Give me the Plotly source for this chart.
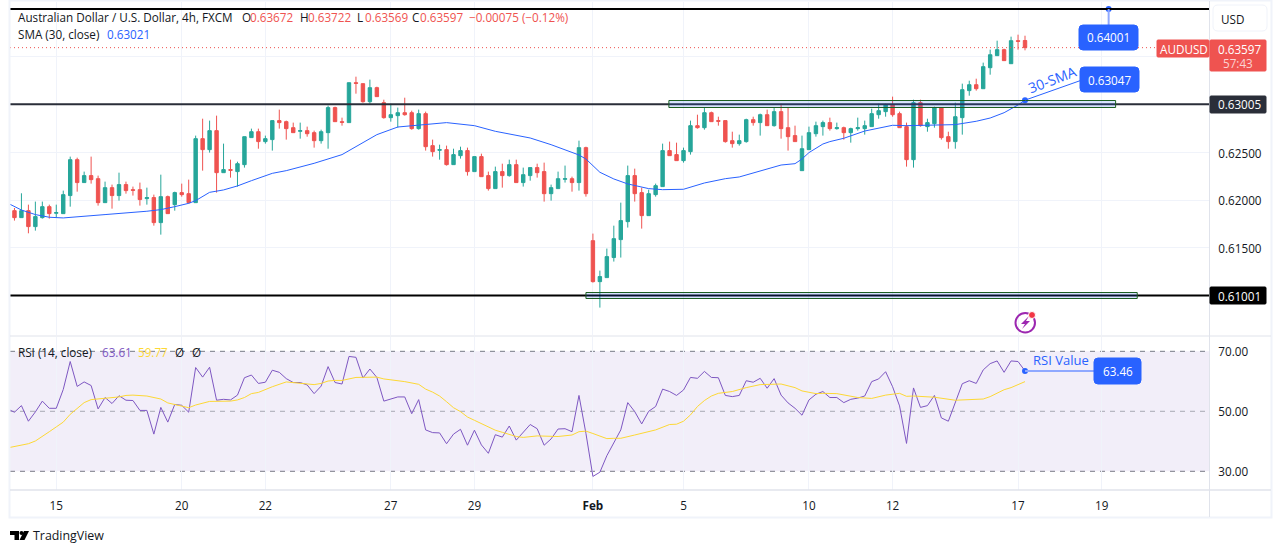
import plotly.graph_objects as go
from plotly.subplots import make_subplots

FONT = "Open Sans"
TEXT_SIZE = 11.7
TEAL = "#26a69a"
RED = "#ef5350"
BLUE = "#2962ff"
INK = "#131722"
FRAME = "#e0e3eb"

# AUD/USD 4h candles, one entry per bar, bar 0 is the first bar of the 15th
opens = [0.61890, 0.61817, 0.61890, 0.61723, 0.61817, 0.61932, 0.61863, 0.61859, 0.62048, 0.62424,
         0.62184, 0.62257, 0.62225, 0.61974, 0.62131, 0.62048, 0.62163, 0.62110, 0.62110, 0.62016,
         0.62027, 0.61765, 0.62037, 0.61953, 0.62079, 0.62068, 0.61974, 0.62644, 0.62529, 0.62728,
         0.62288, 0.62320, 0.62299, 0.62372, 0.62655, 0.62717, 0.62613, 0.62634, 0.62833, 0.62822,
         0.62759, 0.62721, 0.62728, 0.62707, 0.62623, 0.62707, 0.62969, 0.62822, 0.62812, 0.63230,
         0.63220, 0.63031, 0.63178, 0.63021, 0.62864, 0.62885, 0.62916, 0.62916, 0.62749, 0.62906,
         0.62571, 0.62522, 0.62529, 0.62372, 0.62466, 0.62519, 0.62299, 0.62456, 0.62257, 0.62121,
         0.62299, 0.62257, 0.62372, 0.62184, 0.62257, 0.62341, 0.62299, 0.62068, 0.62121, 0.62218,
         0.62225, 0.62184, 0.62550, 0.61576, 0.61147, 0.61189, 0.61399, 0.61587, 0.61775, 0.62257,
         0.62079, 0.61838, 0.62058, 0.62142, 0.62519, 0.62477, 0.62414, 0.62508, 0.62780, 0.62759,
         0.62916, 0.62833, 0.62833, 0.62623, 0.62592, 0.62613, 0.62843, 0.62812, 0.62895, 0.62780,
         0.62927, 0.62759, 0.62676, 0.62309, 0.62529, 0.62696, 0.62770, 0.62812, 0.62749, 0.62759,
         0.62707, 0.62749, 0.62749, 0.62770, 0.62895, 0.62927, 0.63000, 0.62906, 0.62770, 0.62424,
         0.63021, 0.62770, 0.62801, 0.62969, 0.62665, 0.62613, 0.62864, 0.63147, 0.63209, 0.63167,
         0.63387, 0.63513, 0.63576, 0.63429, 0.63670, 0.63672]
highs = [0.61918, 0.62072, 0.61953, 0.61985, 0.61985, 0.61953, 0.61953, 0.62100, 0.62456, 0.62445,
         0.62299, 0.62456, 0.62257, 0.62194, 0.62163, 0.62288, 0.62194, 0.62142, 0.62184, 0.62131,
         0.62058, 0.62267, 0.62048, 0.62089, 0.62173, 0.62215, 0.62676, 0.62853, 0.62833, 0.62885,
         0.62592, 0.62424, 0.62403, 0.62665, 0.62749, 0.62749, 0.62676, 0.62833, 0.62948, 0.62833,
         0.62812, 0.62812, 0.62770, 0.62728, 0.62738, 0.62990, 0.62979, 0.62864, 0.63230, 0.63293,
         0.63220, 0.63262, 0.63188, 0.63052, 0.63010, 0.62969, 0.63073, 0.62937, 0.62948, 0.62927,
         0.62634, 0.62581, 0.62571, 0.62539, 0.62560, 0.62550, 0.62456, 0.62487, 0.62299, 0.62351,
         0.62382, 0.62424, 0.62424, 0.62341, 0.62341, 0.62382, 0.62393, 0.62163, 0.62299, 0.62362,
         0.62246, 0.62623, 0.62560, 0.61650, 0.61262, 0.61493, 0.61733, 0.61974, 0.62362, 0.62330,
         0.62131, 0.62110, 0.62173, 0.62592, 0.62613, 0.62602, 0.62550, 0.62833, 0.62895, 0.62969,
         0.62927, 0.62874, 0.62833, 0.62717, 0.62686, 0.62853, 0.62874, 0.62906, 0.62948, 0.62969,
         0.63010, 0.62969, 0.62780, 0.62676, 0.62770, 0.62822, 0.62833, 0.62864, 0.62812, 0.62770,
         0.62759, 0.62864, 0.62833, 0.62958, 0.63010, 0.63010, 0.63084, 0.62927, 0.62812, 0.63052,
         0.63052, 0.62853, 0.62979, 0.62969, 0.62717, 0.63021, 0.63220, 0.63251, 0.63272, 0.63440,
         0.63576, 0.63670, 0.63586, 0.63712, 0.63733, 0.63722]
lows = [0.61786, 0.61817, 0.61653, 0.61681, 0.61807, 0.61807, 0.61817, 0.61859, 0.61932, 0.62089,
        0.62184, 0.62173, 0.61943, 0.61974, 0.61911, 0.61995, 0.62068, 0.62048, 0.61943, 0.61953,
        0.61733, 0.61639, 0.61859, 0.61890, 0.62037, 0.61964, 0.61974, 0.62309, 0.62498, 0.62079,
        0.62288, 0.62236, 0.62142, 0.62341, 0.62655, 0.62539, 0.62592, 0.62519, 0.62749, 0.62634,
        0.62707, 0.62644, 0.62665, 0.62550, 0.62592, 0.62539, 0.62822, 0.62780, 0.62812, 0.63115,
        0.63021, 0.63010, 0.63084, 0.62853, 0.62822, 0.62759, 0.62885, 0.62738, 0.62738, 0.62519,
        0.62456, 0.62424, 0.62362, 0.62372, 0.62435, 0.62257, 0.62299, 0.62246, 0.62100, 0.62121,
        0.62131, 0.62246, 0.62184, 0.62142, 0.62204, 0.62236, 0.61985, 0.61995, 0.62121, 0.62184,
        0.62089, 0.62100, 0.62037, 0.61137, 0.60875, 0.61189, 0.61357, 0.61399, 0.61713, 0.61985,
        0.61702, 0.61838, 0.62037, 0.62142, 0.62466, 0.62414, 0.62393, 0.62477, 0.62749, 0.62738,
        0.62822, 0.62780, 0.62602, 0.62550, 0.62571, 0.62602, 0.62780, 0.62676, 0.62780, 0.62770,
        0.62644, 0.62519, 0.62613, 0.62309, 0.62529, 0.62665, 0.62676, 0.62728, 0.62738, 0.62634,
        0.62602, 0.62728, 0.62686, 0.62770, 0.62853, 0.62874, 0.62874, 0.62759, 0.62351, 0.62341,
        0.62770, 0.62717, 0.62759, 0.62634, 0.62539, 0.62539, 0.62686, 0.63094, 0.63147, 0.63167,
        0.63314, 0.63513, 0.63461, 0.63429, 0.63576, 0.63569]
closes = [0.61817, 0.61890, 0.61723, 0.61828, 0.61932, 0.61859, 0.61870, 0.62058, 0.62424, 0.62184,
          0.62257, 0.62215, 0.61974, 0.62131, 0.62048, 0.62163, 0.62100, 0.62103, 0.62006, 0.62027,
          0.61765, 0.62037, 0.61859, 0.62079, 0.62058, 0.61974, 0.62644, 0.62529, 0.62728, 0.62288,
          0.62320, 0.62313, 0.62382, 0.62665, 0.62717, 0.62613, 0.62644, 0.62833, 0.62812, 0.62749,
          0.62707, 0.62728, 0.62696, 0.62623, 0.62717, 0.62969, 0.62822, 0.62815, 0.63230, 0.63223,
          0.63031, 0.63178, 0.63084, 0.62864, 0.62895, 0.62916, 0.62895, 0.62749, 0.62906, 0.62560,
          0.62508, 0.62529, 0.62372, 0.62477, 0.62519, 0.62299, 0.62456, 0.62246, 0.62121, 0.62299,
          0.62257, 0.62372, 0.62184, 0.62267, 0.62341, 0.62288, 0.62068, 0.62131, 0.62225, 0.62225,
          0.62184, 0.62550, 0.62068, 0.61147, 0.61200, 0.61409, 0.61597, 0.61786, 0.62257, 0.62068,
          0.61838, 0.62068, 0.62152, 0.62519, 0.62466, 0.62414, 0.62519, 0.62780, 0.62759, 0.62916,
          0.62822, 0.62826, 0.62613, 0.62592, 0.62623, 0.62843, 0.62812, 0.62895, 0.62780, 0.62927,
          0.62749, 0.62665, 0.62613, 0.62539, 0.62707, 0.62780, 0.62812, 0.62749, 0.62759, 0.62707,
          0.62749, 0.62759, 0.62780, 0.62906, 0.62937, 0.63000, 0.62895, 0.62759, 0.62424, 0.63021,
          0.62780, 0.62812, 0.62969, 0.62655, 0.62613, 0.62874, 0.63157, 0.63209, 0.63167, 0.63398,
          0.63523, 0.63576, 0.63461, 0.63670, 0.63663, 0.63597]
bars = list(range(-6, 140))

# SMA 30, read at the bends of the line
sma_bars = [-7, -5, -3, -1, 1, 4, 7, 13, 15, 17, 19, 20, 22, 24, 26, 28, 31, 33, 35, 37, 41, 43, 44, 46, 49, 51, 53,
            56, 60, 63, 68, 71, 75, 76, 78, 80, 82, 85, 87, 90, 93, 96, 98, 101, 104, 106, 107, 108,
            110, 111, 113, 116, 118, 120, 122, 126, 129, 132, 134, 136, 138, 139]
sma = [0.61970, 0.61897, 0.61849, 0.61821, 0.61814, 0.61835, 0.61849, 0.61884, 0.61901, 0.61932, 0.61967, 0.61995,
       0.62082, 0.62107, 0.62149, 0.62204, 0.62281, 0.62309, 0.62344, 0.62386, 0.62477, 0.62560, 0.62609, 0.62686,
       0.62766, 0.62780, 0.62798, 0.62812, 0.62780, 0.62721, 0.62651, 0.62581, 0.62473, 0.62431, 0.62292, 0.62222,
       0.62170, 0.62121, 0.62110, 0.62114, 0.62180, 0.62225, 0.62243, 0.62309, 0.62368, 0.62382, 0.62431, 0.62498,
       0.62588, 0.62613, 0.62648, 0.62724, 0.62756, 0.62784, 0.62780, 0.62787, 0.62791, 0.62826, 0.62860, 0.62916,
       0.62997, 0.63047]

rsi_bars = list(range(-7, 140))
rsi = [50.8, 49.7, 51.9, 46.7, 49.8, 53.4, 51.0, 51.0, 57.3, 66.6, 58.3, 59.8, 58.6, 50.8, 54.6, 52.6, 55.2, 53.7,
       53.6, 50.3, 50.3, 42.4, 51.3, 46.4, 52.3, 52.0, 49.7, 64.6, 61.4, 64.7, 53.7, 54.0, 53.8, 55.4, 61.2, 62.1,
       59.3, 59.7, 63.7, 63.0, 60.9, 59.6, 59.6, 58.8, 55.9, 58.4, 64.9, 59.6, 59.1, 68.3, 68.0, 61.1, 64.1, 61.3,
       53.4, 54.2, 54.8, 54.8, 49.2, 53.9, 43.8, 42.9, 42.8, 39.2, 42.4, 44.0, 38.7, 43.7, 38.8, 36.0, 42.2, 41.4,
       45.1, 40.4, 42.9, 45.6, 44.2, 38.7, 40.8, 44.1, 44.2, 43.2, 55.3, 42.6, 28.3, 29.7, 35.2, 39.7, 43.8, 52.9,
       49.9, 45.8, 50.0, 51.6, 57.4, 56.6, 55.3, 57.1, 61.3, 61.0, 63.3, 61.3, 61.2, 55.3, 54.9, 55.3, 60.2, 59.7,
       61.0, 57.7, 60.9, 55.4, 52.8, 51.0, 48.7, 53.8, 55.7, 56.6, 54.6, 54.6, 52.9, 54.0, 54.4, 55.1, 59.9, 60.8,
       63.2, 58.2, 51.8, 39.3, 57.8, 51.3, 51.9, 55.3, 47.8, 46.7, 53.2, 59.2, 60.2, 59.3, 63.8, 65.9, 66.8, 63.0,
       66.8, 66.6, 63.46]

rsi_ma_bars = [-7, -5, -4, -3, -2, -1, 0, 1, 2, 3, 4, 5, 7, 9, 10, 11, 13, 14, 15, 16, 17, 19, 20, 21, 22, 25, 26, 27,
               28, 29, 31, 33, 35, 37, 38, 39, 40, 41, 43, 46, 47, 50, 52, 53, 54, 55, 56, 57, 58, 59, 60, 61, 62, 63,
               64, 65, 66, 67, 69, 72, 74, 75, 76, 77, 79, 80, 81, 83, 86, 88, 89, 90, 91, 92, 93, 94, 95, 97, 99,
               101, 103, 104, 106, 107, 109, 110, 112, 114, 115, 117, 119, 121, 122, 123, 126, 129, 133, 134, 136,
               137, 138, 139]
rsi_ma = [37.8, 38.8, 39.2, 40.1, 41.8, 43.2, 44.8, 46.4, 49.0, 51.0, 52.9, 53.9, 54.3, 54.8, 55.3, 55.4, 55.1, 54.6,
          54.1, 52.8, 52.2, 51.2, 52.1, 52.6, 53.3, 53.4, 53.8, 54.6, 55.9, 56.3, 58.2, 59.8, 59.4, 58.9, 59.3, 60.1,
          60.3, 60.3, 61.3, 61.4, 60.8, 59.9, 59.0, 57.4, 56.4, 55.1, 53.2, 51.2, 49.9, 48.1, 47.0, 45.9, 44.6, 43.7,
          43.0, 42.3, 41.6, 41.3, 41.8, 41.6, 42.1, 43.2, 43.4, 42.6, 40.9, 41.0, 41.0, 42.1, 43.8, 45.6, 45.7, 46.7,
          48.8, 51.6, 53.6, 55.1, 56.0, 56.6, 57.9, 58.9, 59.1, 59.1, 57.9, 56.8, 55.9, 56.0, 55.9, 55.0, 54.6, 54.3,
          55.4, 56.0, 55.0, 55.1, 54.7, 53.7, 54.1, 54.9, 57.2, 57.9, 59.0, 59.9]

day_ticks = [0, 18, 30, 48, 60, 77, 90, 108, 120, 138, 150]
day_labels = ["15", "20", "22", "27", "29", "<b>Feb</b>", "5", "10", "12", "17", "19"]
price_ticks = [0.61, 0.615, 0.62, 0.625, 0.63, 0.635, 0.64]
price_labels = ["", "0.61500", "0.62000", "0.62500", "", "", ""]
rsi_ticks = [30, 50, 70]
rsi_labels = ["30.00", "50.00", "70.00"]

level_prices = [0.64001, 0.63005, 0.61001]
level_colors = ["#000000", "#2a2e39", "#000000"]
last_close = closes[-1]
target_price = 0.64001
sma_last = 0.63047
rsi_last = 63.46

assert len(opens) == len(highs) == len(lows) == len(closes) == len(bars)
assert len(sma) == len(sma_bars) and len(rsi) == len(rsi_bars) and len(rsi_ma) == len(rsi_ma_bars)


# page pixels to paper coordinates of the plot area (x 10-1209, y 2-490)
def fx(px):
    return (px - 10) / 1199


def fy(py):
    return 1 - (py - 2) / 488


def label(px, py, text, color=INK, size=TEXT_SIZE, anchor="left", **kw):
    fig.add_annotation(x=fx(px - 2 if anchor == "left" else px), y=fy(py), xref="paper", yref="paper", text=text,
                       showarrow=False, xanchor=anchor, yanchor="middle",
                       font=dict(family=FONT, size=size, color=color), **kw)


def badge(x0, y0, x1, y1, color, r=4, line=None):
    path = (f"M{fx(x0 + r)},{fy(y0)} L{fx(x1 - r)},{fy(y0)} Q{fx(x1)},{fy(y0)} {fx(x1)},{fy(y0 + r)} "
            f"L{fx(x1)},{fy(y1 - r)} Q{fx(x1)},{fy(y1)} {fx(x1 - r)},{fy(y1)} "
            f"L{fx(x0 + r)},{fy(y1)} Q{fx(x0)},{fy(y1)} {fx(x0)},{fy(y1 - r)} "
            f"L{fx(x0)},{fy(y0 + r)} Q{fx(x0)},{fy(y0)} {fx(x0 + r)},{fy(y0)} Z")
    fig.add_shape(type="path", path=path, xref="paper", yref="paper", fillcolor=color,
                  line=dict(color=line or color, width=1))


def frame_line(x0, y0, x1, y1, color=FRAME, width=1):
    fig.add_shape(type="line", xref="paper", yref="paper", x0=fx(x0), y0=fy(y0), x1=fx(x1), y1=fy(y1),
                  line=dict(color=color, width=width))


fig = make_subplots(rows=2, cols=1, shared_xaxes=True)

fig.add_trace(go.Candlestick(x=bars, open=opens, high=highs, low=lows, close=closes,
                             increasing=dict(line=dict(color=TEAL, width=1), fillcolor=TEAL),
                             decreasing=dict(line=dict(color=RED, width=1), fillcolor=RED),
                             whiskerwidth=0, showlegend=False), row=1, col=1)
fig.add_trace(go.Scatter(x=sma_bars, y=sma, mode="lines", line=dict(color=BLUE, width=1), showlegend=False),
              row=1, col=1)
fig.add_trace(go.Scatter(x=rsi_bars, y=rsi, mode="lines", line=dict(color="#7e57c2", width=1), showlegend=False),
              row=2, col=1)
fig.add_trace(go.Scatter(x=rsi_ma_bars, y=rsi_ma, mode="lines", line=dict(color="#fdd835", width=1), showlegend=False),
              row=2, col=1)

# RSI band and its dashed levels
fig.add_shape(type="rect", xref="paper", yref="y2", x0=0, x1=1, y0=rsi_ticks[0], y1=rsi_ticks[2],
              fillcolor="rgba(126,87,194,0.1)", line=dict(width=0), layer="below")
for level, color in zip(rsi_ticks, ["#787b86", "rgba(120,123,134,0.6)", "#787b86"]):
    fig.add_shape(type="line", xref="paper", yref="y2", x0=0, x1=1, y0=level, y1=level,
                  line=dict(color=color, width=1, dash="5px,5px"), layer="below")

# support and resistance lines, last price line
for level, color in zip(level_prices, level_colors):
    fig.add_shape(type="line", xref="paper", yref="y", x0=0, x1=1, y0=level, y1=level, line=dict(color=color, width=2))
fig.add_shape(type="line", xref="paper", yref="y", x0=0, x1=1, y0=last_close, y1=last_close,
              line=dict(color=RED, width=1, dash="1px,3px"))

# the two drawn zones
fig.add_shape(type="rect", x0=87.9, x1=152, y0=0.629703, y1=0.630436, fillcolor="rgba(41,98,255,0.18)",
              line=dict(color="#1b5e20", width=1))
fig.add_shape(type="rect", x0=76, x1=155.1, y0=0.609702, y1=0.61033, fillcolor="rgba(41,98,255,0.18)",
              line=dict(color="#1b5e20", width=1))

# chart frame
fig.add_shape(type="rect", xref="paper", yref="paper", x0=fx(9.5), x1=fx(1271.5), y0=fy(0.5), y1=fy(517.5),
              line=dict(color="#f0f3fa", width=2))
frame_line(1209.5, 1, 1209.5, 517)
frame_line(10, 336, 1271, 336)
frame_line(10, 490, 1271, 490, width=1.5)

# callouts
fig.add_shape(type="line", x0=151, x1=151, y0=target_price, y1=0.63833, line=dict(color="#8fa8ff", width=2))
fig.add_shape(type="line", x0=139, x1=146.9, y0=sma_last, y1=0.63251, line=dict(color=BLUE, width=1))
fig.add_shape(type="line", xref="x", yref="y2", x0=139, x1=149, y0=rsi_last, y1=rsi_last,
              line=dict(color="#8fa8ff", width=2))
fig.add_trace(go.Scatter(x=[151, 139], y=[target_price, sma_last], mode="markers", showlegend=False,
                         marker=dict(color=BLUE, size=6)), row=1, col=1)
fig.add_trace(go.Scatter(x=[139], y=[rsi_last], mode="markers", showlegend=False,
                         marker=dict(color=BLUE, size=6)), row=2, col=1)
badge(1079, 25, 1138, 50, BLUE)
badge(1080, 67, 1139, 92, BLUE)
badge(1094, 358, 1141, 384, BLUE)
label(1108.5, 37.5, "0.64001", "#ffffff", TEXT_SIZE, "center")
label(1109.5, 79.5, "0.63047", "#ffffff", TEXT_SIZE, "center")
label(1117.5, 371, "63.46", "#ffffff", TEXT_SIZE, "center")
label(1052, 79, "30-SMA", BLUE, 14, "center", textangle=-21)
label(1061, 359.5, "RSI Value", BLUE, 13, "center")

# price scale badges
badge(1157, 40, 1209, 57, RED, r=1)
badge(1210, 40, 1266, 71, RED, r=1)
badge(1210, 96, 1266, 113, "#2a2e39", r=1)
badge(1210, 287, 1266, 304, "#000000", r=1)
badge(1213, 5, 1267, 31, "#ffffff", r=5, line="#f0f3fa")
label(1183.5, 48.5, "AUDUSD", "#ffffff", TEXT_SIZE, "center")
label(1239, 48.5, "0.63597", "#ffffff", TEXT_SIZE, "center")
label(1238, 63, "57:43", "#fbd4d3", TEXT_SIZE, "center")
label(1239, 104.5, "0.63005", "#ffffff", TEXT_SIZE, "center")
label(1239, 295.5, "0.61001", "#ffffff", TEXT_SIZE, "center")
label(1232.5, 18.5, "USD", INK, TEXT_SIZE, "center")

# legend lines
label(18, 17, "Australian Dollar / U.S. Dollar, 4h, FXCM", INK)
for px, name, value in [(242, "O", "0.63672"), (300, "H", "0.63722"), (357, "L", "0.63569"), (412, "C", "0.63597")]:
    label(px, 17, name, INK)
    label(px + 8, 17, value, RED)
label(469, 17, "\u22120.00075 (\u22120.12%)", RED)
label(18, 34, "SMA (30, close)", INK)
label(107, 34, "0.63021", BLUE)
label(18, 351.5, "RSI (14, close)", INK)
label(102, 351.5, "63.61", "#7e57c2")
label(138, 351.5, "59.77", "#fdd835")
label(175, 351.5, "\u00d8", INK)
label(192, 351.5, "\u00d8", INK)

# events icon
fig.add_shape(type="circle", xref="paper", yref="paper", x0=fx(1015.5), x1=fx(1035), y0=fy(313), y1=fy(332.5),
              line=dict(color="#9c27b0", width=2))
bolt = [(1029, 316), (1021, 324), (1025, 324), (1022, 329), (1030, 321), (1026, 321)]
fig.add_shape(type="path", xref="paper", yref="paper", fillcolor="#9c27b0", line=dict(width=0),
              path="M" + " L".join(f"{fx(px)},{fy(py)}" for px, py in bolt) + " Z")
fig.add_shape(type="circle", xref="paper", yref="paper", x0=fx(1028.5), x1=fx(1035.5), y0=fy(311.5), y1=fy(318.5),
              fillcolor="#f23645", line=dict(color="#ffffff", width=1))

# TradingView logo
logo_t = [(10, 531), (19, 531), (19, 540), (14.5, 540), (14.5, 535), (10, 535)]
logo_v = [(24, 531), (29, 531), (24.5, 540), (19.5, 540)]
for shape in (logo_t, logo_v):
    fig.add_shape(type="path", xref="paper", yref="paper", fillcolor="#000000", line=dict(width=0),
                  path="M" + " L".join(f"{fx(px)},{fy(py)}" for px, py in shape) + " Z")
fig.add_shape(type="circle", xref="paper", yref="paper", x0=fx(19.5), x1=fx(23.5), y0=fy(531), y1=fy(535),
              fillcolor="#000000", line=dict(width=0))
label(33, 535.5, "TradingView", INK, 12.4)

grid = "#f0f3fa"
fig.update_xaxes(range=[-6.64, 165.4], tickmode="array", tickvals=day_ticks, ticktext=day_labels, showgrid=True,
                 gridcolor=grid, zeroline=False, showline=False, rangeslider_visible=False,
                 ticks="outside", ticklen=5, tickcolor="rgba(0,0,0,0)",
                 tickfont=dict(family=FONT, size=TEXT_SIZE, color=INK))
fig.update_xaxes(showticklabels=False, ticks="", row=1, col=1)
fig.update_yaxes(side="right", showgrid=True, gridcolor=grid, zeroline=False, showline=False,
                 ticks="outside", ticklen=6, tickcolor="rgba(0,0,0,0)", ticklabelshift=1,
                 tickfont=dict(family=FONT, size=TEXT_SIZE, color=INK))
fig.update_yaxes(range=[0.60588, 0.64075], domain=[0.3176, 1], tickmode="array", tickvals=price_ticks,
                 ticktext=price_labels, row=1, col=1)
fig.update_yaxes(range=[23.77, 74.77], domain=[0, 0.3135], tickmode="array", tickvals=rsi_ticks,
                 ticktext=rsi_labels, showgrid=False, row=2, col=1)
fig.update_layout(width=1281, height=553, margin=dict(l=10, r=72, t=2, b=63), paper_bgcolor="#ffffff",
                  plot_bgcolor="#ffffff", showlegend=False, hovermode=False, font=dict(family=FONT))

fig.write_html("out.html", config=dict(displayModeBar=False), post_script="document.body.style.margin='0';")
